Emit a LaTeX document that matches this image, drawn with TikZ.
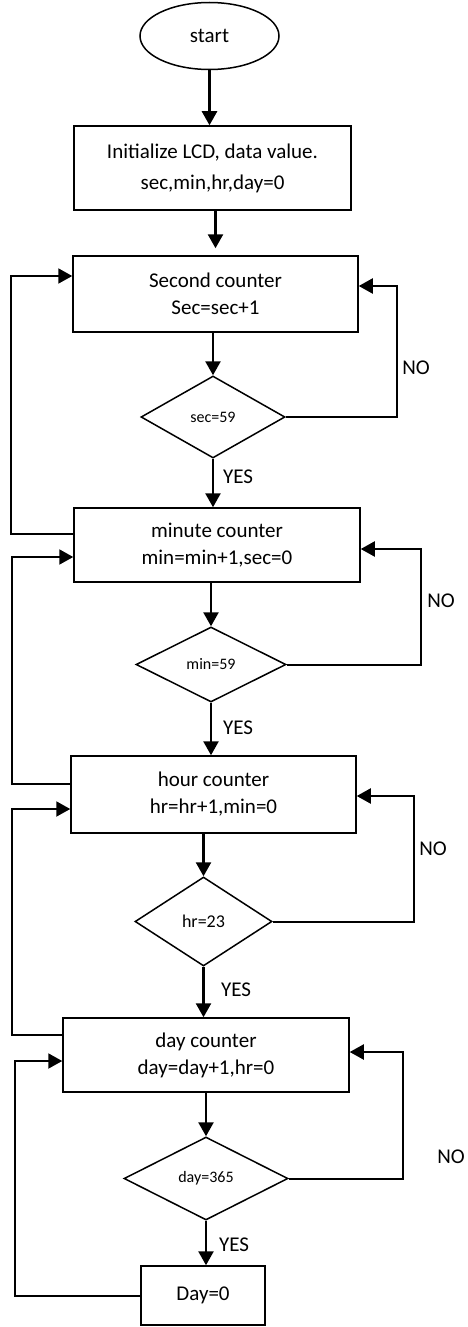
\documentclass[tikz,border=0pt]{standalone}
\usepackage{fontspec}
\setmainfont{Carlito}
\usetikzlibrary{shapes.geometric,arrows.meta}
\tikzset{
  box/.style={draw, line width=1.5pt, align=center, inner sep=0pt, font=\fontsize{21}{27}\selectfont},
  test/.style={draw, diamond, line width=1.5pt, inner sep=0pt, font=\fontsize{16}{19}\selectfont},
  arr/.style={line width=2.5pt, -{Triangle[length=14pt,width=15pt]}},
  back/.style={line width=2pt, -{Triangle[length=14pt,width=15pt]}},
  lbl/.style={inner sep=0pt, font=\fontsize{21}{25}\selectfont}
}
\begin{document}
\begin{tikzpicture}[x=1pt,y=-1pt]
    \useasboundingbox (0,0) rectangle (467,1327);
    % blocks
    \node[draw, ellipse, line width=1.5pt, inner sep=0pt, minimum width=139pt, minimum height=67pt,
          font=\fontsize{21}{25}\selectfont] (start) at (209.5,36) {start};
    \node[box, minimum width=277pt, minimum height=84pt, font=\fontsize{21}{31}\selectfont] (init) at (212.5,168)
        {Initialize LCD, data value.\\ sec,min,hr,day=0};
    \node[box, minimum width=285pt, minimum height=76pt] (sec) at (215.5,294) {Second counter\\ Sec=sec+1};
    \node[test, minimum width=144pt, minimum height=82pt] (secchk) at (213,417) {sec=59};
    \node[box, minimum width=286pt, minimum height=74pt] (min) at (217,545) {minute counter\\ min=min+1,sec=0};
    \node[test, minimum width=150pt, minimum height=75pt] (minchk) at (211,664.5) {min=59};
    \node[box, minimum width=285pt, minimum height=77pt] (hour) at (213.5,794.5) {hour counter\\ hr=hr+1,min=0};
    \node[test, minimum width=137pt, minimum height=89pt, font=\fontsize{18}{21}\selectfont] (hrchk) at (203.5,921.5) {hr=23};
    \node[box, minimum width=286pt, minimum height=74pt] (day) at (206,1055) {day counter\\ day=day+1,hr=0};
    \node[test, minimum width=164pt, minimum height=83pt] (daychk) at (206,1178.5) {day=365};
    \node[box, minimum width=124pt, minimum height=59pt] (reset) at (203,1295.5) {Day=0};

    % main flow
    \draw[arr] (start.south) -- (start.south |- init.north);
    \draw[arr, shorten >=7pt] (sec.north |- init.south) -- (sec.north);
    \draw[arr] (secchk.north |- sec.south) -- (secchk.north);
    \draw[arr] (secchk.south) -- (secchk.south |- min.north);
    \draw[arr] (minchk.north |- min.south) -- (minchk.north);
    \draw[arr] (minchk.south) -- (minchk.south |- hour.north);
    \draw[arr] (hrchk.north |- hour.south) -- (hrchk.north);
    \draw[arr] (hrchk.south) -- (hrchk.south |- day.north);
    \draw[arr] (daychk.north |- day.south) -- (daychk.north);
    \draw[arr] (daychk.south) -- (daychk.south |- reset.north);

    % NO branches
    \draw[back] (secchk.east) -- ++(111,0) |- ([yshift=8pt]sec.east);
    \draw[back] (minchk.east) -- ++(134,0) |- ([yshift=-4pt]min.east);
    \draw[back] (hrchk.east) -- ++(141,0) |- ([yshift=-1.5pt]hour.east);
    \draw[back] (daychk.east) -- ++(114,0) |- ([yshift=3pt]day.east);

    % return lines on the left
    \draw[back] ([yshift=11pt]min.west) -- ++(-62,0) |- ([yshift=18pt]sec.west);
    \draw[back] ([yshift=10.5pt]hour.west) -- ++(-58,0) |- ([yshift=-12pt]min.west);
    \draw[back] ([yshift=20pt]day.west) -- ++(-50,0) |- ([yshift=-14.5pt]hour.west);
    \draw[back] (reset.west) -- ++(-125,0) |- ([yshift=-6pt]day.west);

    % labels
    \node[lbl] (yes1) at (238,477) {YES};
    \node[lbl] (yes2) at (238,728) {YES};
    \node[lbl] (yes3) at (236,990) {YES};
    \node[lbl] (yes4) at (234,1245) {YES};
    \node[lbl] (no1) at (416,368) {NO};
    \node[lbl] (no2) at (441,601) {NO};
    \node[lbl] (no3) at (433,849) {NO};
    \node[lbl] (no4) at (451,1157) {NO};
\end{tikzpicture}
\end{document}
